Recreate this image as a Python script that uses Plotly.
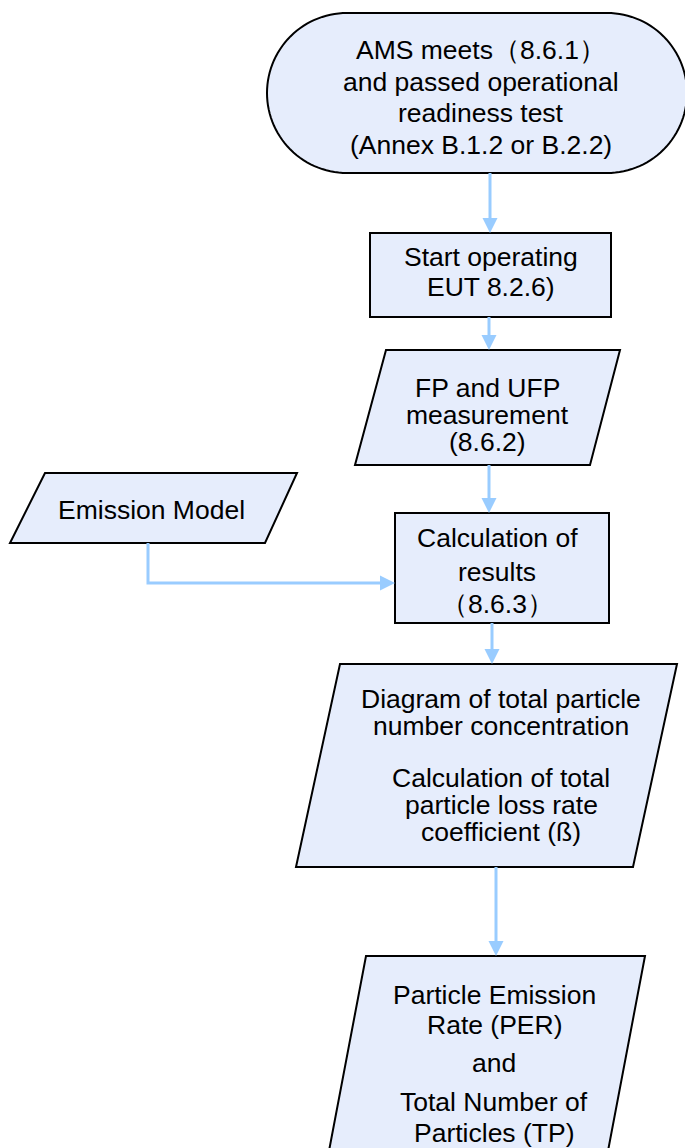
import math
import plotly.graph_objects as go

W, H = 685, 1148

# ---- text content (labels) ----
start_lines = ["AMS meets（8.6.1）", "and passed operational", "readiness test", "(Annex B.1.2 or B.2.2)"]
operate_lines = ["Start operating", "EUT 8.2.6)"]
measure_lines = ["FP and UFP", "measurement", "(8.6.2)"]
model_lines = ["Emission Model"]
calc_lines = ["Calculation of", "results", "（8.6.3）"]
diagram_lines = ["Diagram of total particle", "number concentration",
                 "Calculation of total", "particle loss rate", "coefficient (ß)"]
per_lines = ["Particle Emission", "Rate (PER)", "and", "Total Number of", "Particles (TP)"]

# ---- layout geometry (pixel space) ----
FILL = "#E6EDFC"
EDGE = "#99CCFF"
FONT = "Liberation Sans, Arial, sans-serif"
FS = 26.5

nodes = [
    dict(kind="stadium", box=(267, 687, 13, 173), lines=start_lines, cx=481, ys=[50, 82, 113, 145]),
    dict(kind="rect", box=(370, 611, 233, 317), lines=operate_lines, cx=491, ys=[257, 287]),
    dict(kind="para", pts=[(386, 350), (620, 350), (590, 465), (355, 465)], lines=measure_lines, cx=487, ys=[388, 415, 442]),
    dict(kind="para", pts=[(45, 473), (297, 473), (265, 543), (10, 543)], lines=model_lines, cx=151, ys=[510]),
    dict(kind="rect", box=(395, 609, 513, 623), lines=calc_lines, cx=497, ys=[538, 572, 604]),
    dict(kind="para", pts=[(340, 664), (677, 664), (633, 867), (296, 867)], lines=diagram_lines, cx=501, ys=[699, 726, 778, 805, 832]),
    dict(kind="para", pts=[(366, 956), (645, 956), (604, 1172), (325, 1172)], lines=per_lines, cx=494, ys=[995, 1025, 1063, 1102, 1133]),
]

edges = [
    [(490, 173), (490, 233)],
    [(489, 317), (489, 350)],
    [(489, 465), (489, 513)],
    [(148, 543), (148, 583), (395, 583)],
    [(492, 623), (492, 664)],
    [(496, 867), (496, 956)],
]

fig = go.Figure()
shapes = []
annotations = []


def poly_path(pts, close=True):
    s = "M " + " L ".join(f"{x:.2f},{y:.2f}" for x, y in pts)
    return s + (" Z" if close else "")


for n in nodes:
    if n["kind"] == "rect":
        x0, x1, y0, y1 = n["box"]
        shapes.append(dict(type="rect", x0=x0, x1=x1, y0=y0, y1=y1, xref="x", yref="y",
                           fillcolor=FILL, line=dict(color="black", width=2), layer="below"))
    elif n["kind"] == "stadium":
        x0, x1, y0, y1 = n["box"]
        r = (y1 - y0) / 2
        cy = (y0 + y1) / 2
        pts = []
        # right semicircle (top -> bottom)
        for i in range(61):
            a = -math.pi / 2 + math.pi * i / 60
            pts.append((x1 - r + r * math.cos(a), cy + r * math.sin(a)))
        # left semicircle (bottom -> top)
        for i in range(61):
            a = math.pi / 2 + math.pi * i / 60
            pts.append((x0 + r + r * math.cos(a), cy + r * math.sin(a)))
        shapes.append(dict(type="path", path=poly_path(pts), xref="x", yref="y",
                           fillcolor=FILL, line=dict(color="black", width=2), layer="below"))
    else:
        shapes.append(dict(type="path", path=poly_path(n["pts"]), xref="x", yref="y",
                           fillcolor=FILL, line=dict(color="black", width=2), layer="below"))
    for t, y in zip(n["lines"], n["ys"]):
        annotations.append(dict(x=n["cx"], y=y, xref="x", yref="y", text=t, showarrow=False,
                                xanchor="center", yanchor="middle",
                                font=dict(family=FONT, size=FS, color="black")))

HEAD_L, HEAD_W = 15, 7.5
for e in edges:
    (xa, ya), (xb, yb) = e[-2], e[-1]
    dx, dy = xb - xa, yb - ya
    L = (dx * dx + dy * dy) ** 0.5
    ux, uy = dx / L, dy / L
    bx, by = xb - ux * HEAD_L, yb - uy * HEAD_L
    pts = e[:-1] + [(bx, by)]
    shapes.append(dict(type="path", path=poly_path(pts, close=False), xref="x", yref="y",
                       line=dict(color=EDGE, width=3), layer="above"))
    px, py = -uy, ux
    tri = [(xb, yb), (bx + px * HEAD_W, by + py * HEAD_W), (bx - px * HEAD_W, by - py * HEAD_W)]
    shapes.append(dict(type="path", path=poly_path(tri), xref="x", yref="y",
                       fillcolor=EDGE, line=dict(color=EDGE, width=0), layer="above"))

fig.update_layout(
    width=W, height=H,
    margin=dict(l=0, r=0, t=0, b=0),
    paper_bgcolor="white", plot_bgcolor="white",
    xaxis=dict(range=[0, W], visible=False, fixedrange=True),
    yaxis=dict(range=[H, 0], visible=False, fixedrange=True),
    shapes=shapes, annotations=annotations, showlegend=False,
)

fig.write_html("out.html", config={"displayModeBar": False},
               post_script="document.body.style.margin='0';document.body.style.overflow='hidden';")
